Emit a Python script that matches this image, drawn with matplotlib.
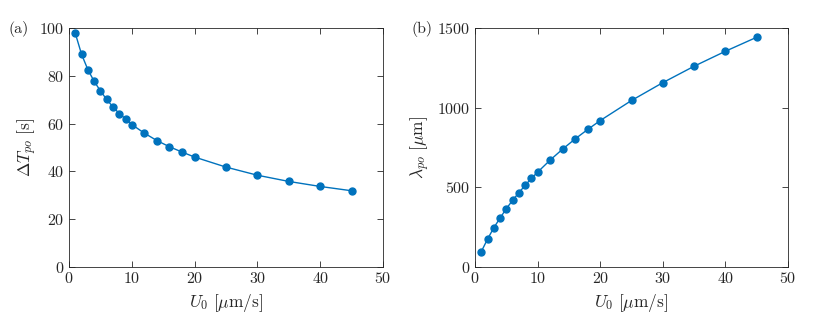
import matplotlib
matplotlib.use("Agg")
import matplotlib.pyplot as plt

plt.rcParams['font.family'] = 'serif'
plt.rcParams['font.serif'] = ['cmr10', 'DejaVu Serif']
plt.rcParams['mathtext.fontset'] = 'cm'
plt.rcParams['axes.formatter.use_mathtext'] = True

U0 = [1, 2, 3, 4, 5, 6, 7, 8, 9, 10, 12, 14, 16, 18, 20, 25, 30, 35, 40, 45]
dT = [97.8, 89.0, 82.6, 77.7, 73.7, 70.1, 67.0, 64.2, 62.0, 59.6,
      56.0, 52.9, 50.3, 48.1, 46.0, 41.8, 38.4, 35.8, 33.7, 31.9]
lam = [96, 175, 246, 307, 366, 418, 466, 512, 556, 595,
       671, 740, 804, 863, 919, 1045, 1157, 1260, 1354, 1442]

color = '#0072BD'
txt = '#262626'
W, H = 830, 323
fig = plt.figure(figsize=(W / 100, H / 100), dpi=100)

def make_ax(left, right, top, bottom):
    return fig.add_axes([left / W, 1 - bottom / H, (right - left) / W, (bottom - top) / H])

ax1 = make_ax(69, 383, 28, 267)
ax2 = make_ax(475, 788, 28, 267)

for ax, y, ylim, yt, ylab, ylx in [
    (ax1, dT, (0, 100), [0, 20, 40, 60, 80, 100], r'$\Delta T_{po}\ [\mathrm{s}]$', -0.131),
    (ax2, lam, (0, 1500), [0, 500, 1000, 1500], r'$\lambda_{po}\ [\mu\mathrm{m}]$', -0.175),
]:
    ax.plot(U0, y, '-o', color=color, lw=1.0, ms=5.0, mec=color, mfc=color)
    ax.set_xlim(0, 50)
    ax.set_ylim(*ylim)
    ax.set_xticks([0, 10, 20, 30, 40, 50])
    ax.set_yticks(yt)
    ax.tick_params(direction='in', top=True, right=True, labelsize=11.5,
                   colors=txt, length=4, width=0.6, pad=3)
    for s in ax.spines.values():
        s.set_color(txt)
        s.set_linewidth(0.6)
    ax.set_xlabel(r'$U_0\ [\mu\mathrm{m/s}]$', fontsize=12.5, color=txt, labelpad=4)
    ax.set_ylabel(ylab, fontsize=12.5, color=txt, va='center')
    ax.yaxis.set_label_coords(ylx, 0.5)

fig.text(8 / W, 1 - 29 / H, '(a)', fontsize=11.5, color=txt, va='center', ha='left')
fig.text(411 / W, 1 - 29 / H, '(b)', fontsize=11.5, color=txt, va='center', ha='left')

fig.savefig('out.png', dpi=100)
